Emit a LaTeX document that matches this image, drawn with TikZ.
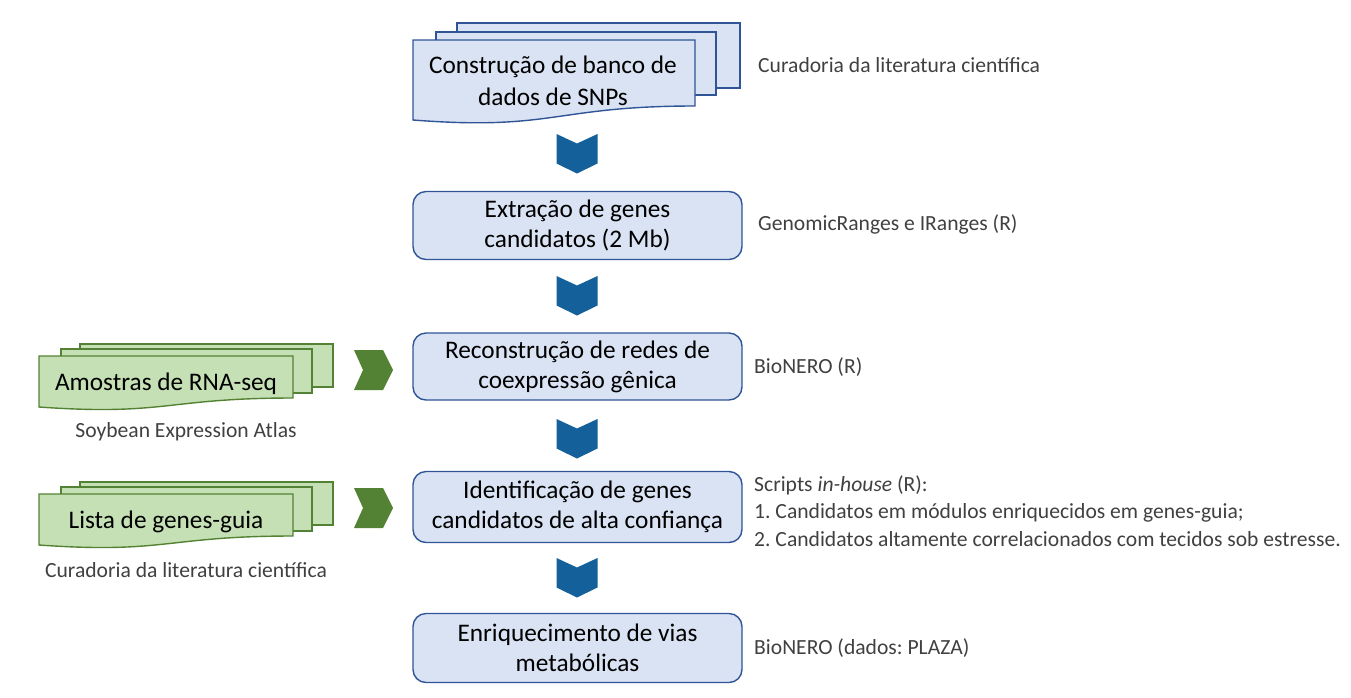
\documentclass[tikz,border=0pt]{standalone}
\usepackage{fontspec}
\setmainfont{Carlito}
\usetikzlibrary{calc}
\definecolor{boxfill}{HTML}{DAE3F3}
\definecolor{boxline}{HTML}{2F5597}
\definecolor{chevblue}{HTML}{13609A}
\definecolor{greenfill}{HTML}{C5E0B4}
\definecolor{greenline}{HTML}{548235}
\definecolor{sidetext}{HTML}{404040}
\frenchspacing
\begin{document}
\begin{tikzpicture}[x=1pt,y=-1pt,
  stepbox/.style={draw=boxline, fill=boxfill, line width=1.4pt, rounded corners=13pt,
    minimum width=329pt, minimum height=68pt, align=center, inner sep=0pt,
    font=\fontsize{25.3}{30}\selectfont},
  bluedoc/.style={draw=boxline, fill=boxfill, line width=1.4pt},
  greendoc/.style={draw=greenline, fill=greenfill, line width=1.4pt},
  doctext/.style={align=center, inner sep=0pt, font=\fontsize{25.3}{31.5}\selectfont},
  sidelabel/.style={anchor=west, inner sep=0pt, text=sidetext, align=left,
    font=\fontsize{21.6}{27.5}\selectfont},
  downchev/.pic={\fill[chevblue] (-20.5,0) -- (0,9.5) -- (20.5,0) -- (20.5,29.5) -- (0,39.5) -- (-20.5,29.5) -- cycle;},
  rightchev/.pic={\fill[greenline] (0,0) -- (29,0) -- (39,20) -- (29,40) -- (0,40) -- (9,20) -- cycle;}
]
\useasboundingbox (0,0) rectangle (1351,697);

% ---- top multi-document
\path[bluedoc] (457,23) rectangle (740,88);
\path[bluedoc] (436,32) rectangle (716,95);
\path[bluedoc] (413,40) -- (695,40) -- (695,106) .. controls (554,106) and (554,131) .. (413,120) -- cycle;
\node[doctext] (snp) at (553,81) {Construção de banco de\\dados de SNPs};
\node[sidelabel] (lit1) at (758,65) {Curadoria da literatura científica};

% ---- main boxes
\node[stepbox] (ext) at (577.5,225.5) {Extração de genes\\candidatos (2 Mb)};
\node[stepbox, minimum height=67pt] (rec) at (577.5,366.5) {Reconstrução de redes de\\coexpressão gênica};
\node[stepbox, minimum height=71pt] (idf) at (577.5,507) {Identificação de genes\\candidatos de alta confiança};
\node[stepbox, minimum height=69pt] (enr) at (577.5,648) {Enriquecimento de vias\\metabólicas};

\node[sidelabel] (gr) at (758,224) {GenomicRanges e IRanges (R)};
\node[sidelabel] (bn) at (754,367) {BioNERO (R)};
\node[sidelabel] (sc) at (754,511) {Scripts \textit{in-house} (R):\\1. Candidatos em módulos enriquecidos em genes-guia;\\2. Candidatos altamente correlacionados com tecidos sob estresse.};
\node[sidelabel] (bp) at (754,648) {BioNERO (dados: PLAZA)};

% ---- blue chevrons
\pic at (577,134) {downchev};
\pic at (577,276) {downchev};
\pic at (577,419) {downchev};
\pic at (577,558) {downchev};

% ---- green multi-documents
\path[greendoc] (80,344) rectangle (333,387);
\path[greendoc] (61,349) rectangle (312,393);
\path[greendoc] (39,356) -- (293,356) -- (293,398) .. controls (166,398) and (166,416) .. (39,407) -- cycle;
\node[doctext] (rna) at (166,384) {Amostras de RNA-seq};
\node[sidelabel, anchor=center] (sea) at (186,432) {Soybean Expression Atlas};

\path[greendoc] (80,482) rectangle (333,525);
\path[greendoc] (61,487) rectangle (312,531);
\path[greendoc] (39,494) -- (293,494) -- (293,536) .. controls (166,536) and (166,554) .. (39,545) -- cycle;
\node[doctext] (gg) at (166,522) {Lista de genes-guia};
\node[sidelabel, anchor=center] (lit2) at (186,570) {Curadoria da literatura científica};

\pic at (354,350) {rightchev};
\pic at (354,488) {rightchev};
\end{tikzpicture}
\end{document}
